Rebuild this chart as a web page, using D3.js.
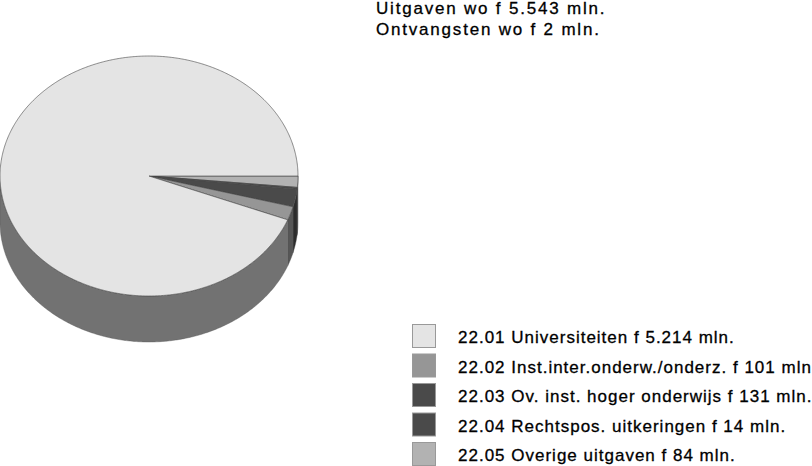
<!DOCTYPE html>
<html>
<head>
<meta charset="utf-8">
<script src="https://cdn.jsdelivr.net/npm/d3@7"></script>
<style>
html, body { margin: 0; padding: 0; background: #fff; overflow: hidden; }
svg { display: block; }
text { font-family: "Liberation Sans", Arial, sans-serif; fill: #000; stroke: #000; stroke-width: 0.3px; }
</style>
</head>
<body>
<svg id="chart" width="812" height="466"></svg>
<script>
// pie data, in legend order
var titles = ['Uitgaven wo f 5.543 mln.', 'Ontvangsten wo f 2 mln.'];
var codes = ['22.01', '22.02', '22.03', '22.04', '22.05'];
var labels = [
    '22.01 Universiteiten f 5.214 mln.',
    '22.02 Inst.inter.onderw./onderz. f 101 mln',
    '22.03 Ov. inst. hoger onderwijs f 131 mln.',
    '22.04 Rechtspos. uitkeringen f 14 mln.',
    '22.05 Overige uitgaven f 84 mln.'
];
var values = [5214, 101, 131, 14, 84];
var topColors = ['#e4e4e4', '#969696', '#4a4a4a', '#4a4a4a', '#b2b2b2'];
var wallColors = ['#727272', '#565656', '#2c2c2c', '#2c2c2c', '#5a5a5a'];

var svg = d3.select('#chart');
var cx = 149, cy = 176, rx = 149, ry = 120, depth = 46;

// slices run clockwise from 3 o'clock, last legend entry first
var pie = d3.pie().sort(null).value(function(d) { return d.value; })
    .startAngle(0).endAngle(2 * Math.PI);
var rows = codes.map(function(c, i) {
    return {code: c, label: labels[i], value: values[i], top: topColors[i], wall: wallColors[i]};
});
var slices = pie(rows.slice().reverse());

var px = d3.scaleLinear().domain([-1, 1]).range([cx - rx, cx + rx]);
var py = d3.scaleLinear().domain([-1, 1]).range([cy - ry, cy + ry]);

function edge(a, dy) {
    return [px(Math.cos(a)), py(Math.sin(a)) + dy];
}

function arcPoints(a0, a1, dy) {
    var n = Math.max(2, Math.ceil((a1 - a0) / 0.01));
    return d3.range(n + 1).map(function(i) {
        return edge(a0 + (a1 - a0) * i / n, dy);
    });
}

var line = d3.line();

// only the front half of the wall shows
var walls = slices.filter(function(d) { return d.startAngle < Math.PI; });
svg.append('g').selectAll('path')
    .data(walls)
  .enter().append('path')
    .attr('d', function(d) {
        var a0 = d.startAngle, a1 = Math.min(d.endAngle, Math.PI);
        return line(arcPoints(a0, a1, 0).concat(arcPoints(a0, a1, depth).reverse())) + 'Z';
    })
    .attr('fill', function(d) { return d.data.wall; })
    .attr('stroke', '#555')
    .attr('stroke-width', 0.4);

svg.append('g').selectAll('path')
    .data(slices)
  .enter().append('path')
    .attr('d', function(d) {
        return line([[cx, cy]].concat(arcPoints(d.startAngle, d.endAngle, 0))) + 'Z';
    })
    .attr('fill', function(d) { return d.data.top; })
    .attr('stroke', '#444')
    .attr('stroke-width', 0.6);

svg.append('g').selectAll('text')
    .data(titles)
  .enter().append('text')
    .attr('x', 376)
    .attr('y', function(d, i) { return 14 + i * 21; })
    .attr('font-size', 17)
    .attr('letter-spacing', 1.8)
    .text(function(d) { return d; });

var legendY = d3.scalePoint().domain(codes).range([324, 442]);

var legend = svg.append('g').selectAll('g')
    .data(rows)
  .enter().append('g')
    .attr('transform', function(d) { return 'translate(0,' + legendY(d.code) + ')'; });

legend.append('rect')
    .attr('x', 412.5)
    .attr('y', 0.5)
    .attr('width', 23)
    .attr('height', 23)
    .attr('fill', function(d) { return d.top; })
    .attr('stroke', '#999')
    .attr('stroke-width', 1);

legend.append('text')
    .attr('x', 458)
    .attr('y', 19)
    .attr('font-size', 17)
    .attr('letter-spacing', 1)
    .text(function(d) { return d.label; });
</script>
</body>
</html>
